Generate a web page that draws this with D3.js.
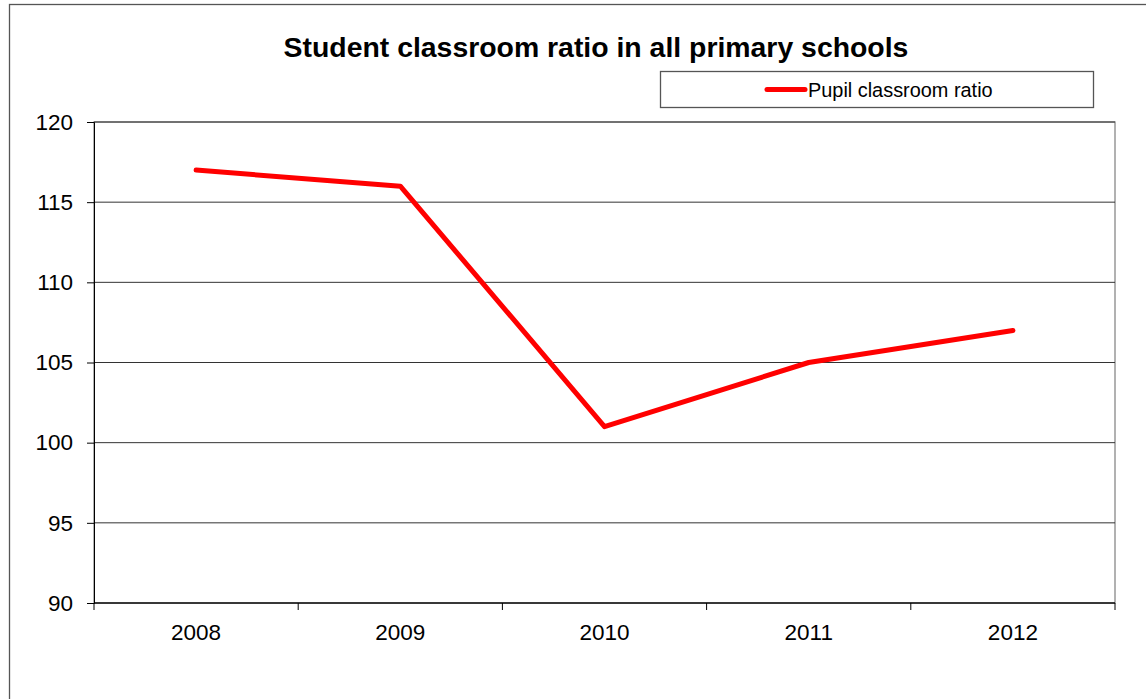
<!DOCTYPE html>
<html>

<head>
    <meta charset="utf-8">
    <script src="https://d3js.org/d3.v7.min.js"></script>
    <style>
        body { margin: 0; background: #fff; }
        text { font-family: "Liberation Sans", Arial, sans-serif; }
    </style>
</head>

<body>
    <script type="text/javascript">
        // data
        const years = ["2008", "2009", "2010", "2011", "2012"];
        const ratios = [117, 116, 101, 105, 107];
        const yTicks = [90, 95, 100, 105, 110, 115, 120];
        const seriesName = "Pupil classroom ratio";
        const title = "Student classroom ratio in all primary schools";

        let width = 1146,
            height = 699,
            plot = { left: 94, top: 122, right: 1115, bottom: 603 };

        let svg = d3.select("body")
            .append("svg")
            .attr("width", width)
            .attr("height", height);

        // outer chart frame (runs off right/bottom edges)
        svg.append("rect")
            .attr("x", 9.5).attr("y", 4.5)
            .attr("width", 1150).attr("height", 710)
            .attr("fill", "none")
            .attr("stroke", "#555")
            .attr("stroke-width", 1.3);

        let x = d3.scaleBand()
            .domain(years)
            .range([plot.left, plot.right]);

        let y = d3.scaleLinear()
            .domain([90, 120])
            .range([plot.bottom, plot.top]);

        // plot area box
        svg.append("rect")
            .attr("x", plot.left).attr("y", plot.top)
            .attr("width", plot.right - plot.left)
            .attr("height", plot.bottom - plot.top)
            .attr("fill", "none")
            .attr("stroke", "#888")
            .attr("stroke-width", 1.3);

        // gridlines
        svg.append("g")
            .selectAll("line")
            .data(yTicks)
            .join("line")
            .attr("x1", plot.left).attr("x2", plot.right)
            .attr("y1", d => y(d)).attr("y2", d => y(d))
            .attr("stroke", "#333")
            .attr("stroke-width", 1);

        // y axis
        let yAxis = svg.append("g")
            .attr("transform", `translate(${plot.left},0)`)
            .call(d3.axisLeft(y).tickValues(yTicks).tickSize(7).tickPadding(14));
        yAxis.select(".domain").attr("stroke", "#000");
        yAxis.selectAll(".tick line").attr("stroke", "#000");
        yAxis.selectAll("text")
            .attr("font-size", 22.5)
            .attr("fill", "#000");

        // x axis, ticks sit between categories
        let xAxis = svg.append("g")
            .attr("transform", `translate(0,${plot.bottom})`)
            .call(d3.axisBottom(x).tickSize(0).tickPadding(21));
        xAxis.select(".domain").remove();
        xAxis.selectAll("text")
            .attr("font-size", 22.5)
            .attr("fill", "#000");

        let bounds = years.map(d => x(d)).concat([plot.right]);
        svg.append("g")
            .selectAll("line")
            .data(bounds)
            .join("line")
            .attr("x1", d => d).attr("x2", d => d)
            .attr("y1", plot.bottom).attr("y2", plot.bottom + 7)
            .attr("stroke", "#000");
        svg.append("line")
            .attr("x1", plot.left).attr("x2", plot.right)
            .attr("y1", plot.bottom).attr("y2", plot.bottom)
            .attr("stroke", "#000");

        // series line
        let line = d3.line()
            .x((d, i) => x(years[i]) + x.bandwidth() / 2)
            .y(d => y(d));

        svg.append("path")
            .attr("d", line(ratios))
            .attr("fill", "none")
            .attr("stroke", "#ff0000")
            .attr("stroke-width", 5)
            .attr("stroke-linejoin", "round")
            .attr("stroke-linecap", "round");

        // title
        svg.append("text")
            .attr("x", 596)
            .attr("y", 57)
            .attr("text-anchor", "middle")
            .attr("font-size", 28.4)
            .attr("font-weight", "bold")
            .text(title);

        // legend
        let legend = svg.append("g");
        legend.append("rect")
            .attr("x", 660.5).attr("y", 71.5)
            .attr("width", 433).attr("height", 36)
            .attr("fill", "#fff")
            .attr("stroke", "#555")
            .attr("stroke-width", 1.3);
        legend.append("line")
            .attr("x1", 767).attr("x2", 805)
            .attr("y1", 89.5).attr("y2", 89.5)
            .attr("stroke", "#ff0000")
            .attr("stroke-width", 5)
            .attr("stroke-linecap", "round");
        legend.append("text")
            .attr("x", 808)
            .attr("y", 96.5)
            .attr("font-size", 19.9)
            .text(seriesName);
    </script>
</body>

</html>
